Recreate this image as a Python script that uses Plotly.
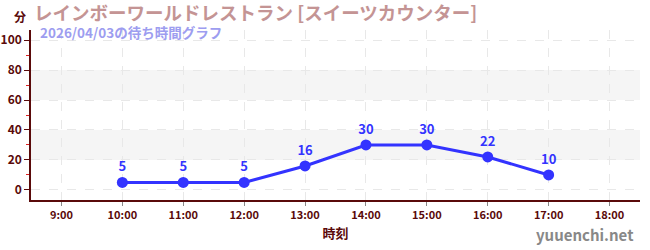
import plotly.graph_objects as go

hours = [10, 11, 12, 13, 14, 15, 16, 17]
waits = [5, 5, 5, 16, 30, 30, 22, 10]
tick_vals = [9, 10, 11, 12, 13, 14, 15, 16, 17, 18]
tick_text = ["9:00", "10:00", "11:00", "12:00", "13:00", "14:00", "15:00", "16:00", "17:00", "18:00"]
y_ticks = [0, 20, 40, 60, 80, 100]
bands = [(20, 40), (60, 80)]

title = "レインボーワールドレストラン [スイーツカウンター]"
subtitle = "2026/04/03の待ち時間グラフ"
FONT = "Noto Sans CJK JP"
DARK = "#5a0a0a"
BLUE = "#3333ff"

fig = go.Figure()
fig.add_trace(go.Scatter(
    x=hours, y=waits, mode="lines+markers+text",
    line=dict(color=BLUE, width=3),
    marker=dict(color=BLUE, size=11),
    text=[str(v) for v in waits], textposition="top center",
    textfont=dict(color=BLUE, size=13, family=FONT, weight="bold"),
    cliponaxis=False, hoverinfo="skip", showlegend=False,
))

shapes = []
for lo, hi in bands:
    shapes.append(dict(type="rect", xref="paper", x0=0, x1=1, yref="y", y0=lo, y1=hi,
                       fillcolor="#f5f5f5", line=dict(width=0), layer="below"))
fig.update_layout(shapes=shapes)

fig.update_layout(
    width=650, height=250,
    margin=dict(l=31, r=10, t=30, b=50, autoexpand=False),
    paper_bgcolor="white", plot_bgcolor="white",
    font=dict(family=FONT, color=DARK),
    xaxis=dict(range=[8.5, 18.5], tickvals=tick_vals, ticktext=tick_text, automargin=False,
               tickfont=dict(size=11, color=DARK, weight="bold"), showline=True, linecolor=DARK, linewidth=1.5,
               ticks="outside", ticklen=4, tickcolor="#888888",
               showgrid=True, gridcolor="#e8e8e8", griddash="dash", gridwidth=1,
               zeroline=False, title=dict(text="<b>時刻</b>", font=dict(size=13, color=DARK), standoff=8),
               fixedrange=True),
    yaxis=dict(range=[-6.7, 106.7], tickvals=y_ticks, automargin=False,
               tickfont=dict(size=12, color=DARK, weight="bold"),
               showline=True, linecolor=DARK, linewidth=1.5,
               ticks="outside", ticklen=5, tickcolor=DARK,
               minor=dict(tickvals=[10, 30, 50, 70, 90], ticks="outside", ticklen=3, tickcolor="#dd2222", showgrid=False),
               showgrid=True, gridcolor="#e8e8e8", griddash="dash", gridwidth=1,
               zeroline=False, fixedrange=True),
    annotations=[
        dict(text="<b>" + title + "</b>", xref="paper", yref="paper", x=0.0, y=1.0, xshift=1, yshift=18,
             xanchor="left", yanchor="middle", showarrow=False,
             font=dict(size=18.5, color="#c49494", family=FONT)),
        dict(text="<b>" + subtitle + "</b>", xref="paper", yref="paper", x=0.0, y=1.0, xshift=7, yshift=-2,
             xanchor="left", yanchor="middle", showarrow=False,
             font=dict(size=13.5, color="#9d9df0", family=FONT)),
        dict(text="<b>分</b>", xref="paper", yref="paper", x=0.0, y=1.0, xshift=-11, yshift=14,
             xanchor="center", yanchor="middle", showarrow=False,
             font=dict(size=12, color=DARK, family=FONT)),
        dict(text="<b>yuuenchi.net</b>", xref="paper", yref="paper", x=1.0, y=0, xshift=-4, yshift=-34,
             xanchor="right", yanchor="middle", showarrow=False,
             font=dict(size=15, color="#888888", family=FONT)),
    ],
)
fig.write_html("out.html")
